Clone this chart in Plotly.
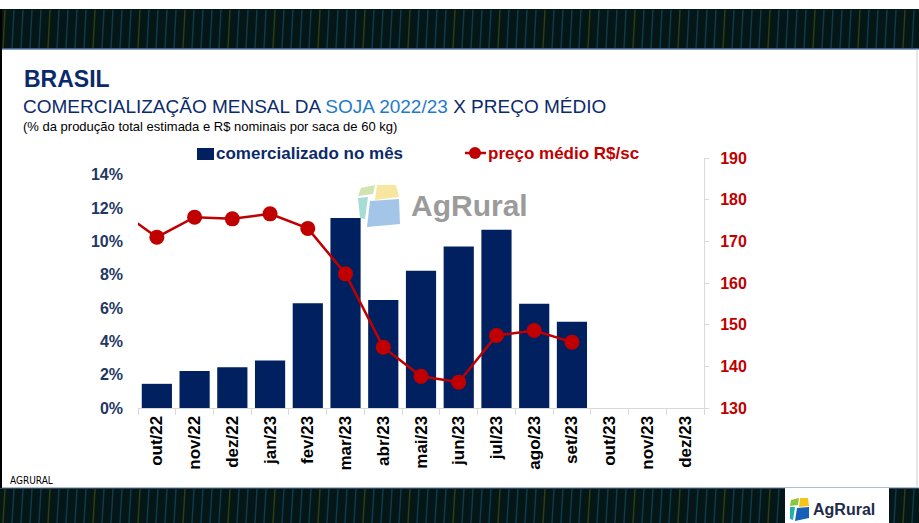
#%%
import plotly.graph_objects as go

# months on the x axis (set/22 is only there so the price line enters from the left edge)
meses = ['set/22', 'out/22', 'nov/22', 'dez/22', 'jan/23', 'fev/23', 'mar/23', 'abr/23',
         'mai/23', 'jun/23', 'jul/23', 'ago/23', 'set/23', 'out/23', 'nov/23', 'dez/23']

# % da produção comercializada no mês
meses_com = ['out/22', 'nov/22', 'dez/22', 'jan/23', 'fev/23', 'mar/23', 'abr/23',
             'mai/23', 'jun/23', 'jul/23', 'ago/23', 'set/23']
comercializado = [1.45, 2.22, 2.45, 2.85, 6.28, 11.4, 6.48, 8.24, 9.69, 10.69, 6.25, 5.18]

# preço médio R$/saca de 60 kg
meses_preco = ['set/22', 'out/22', 'nov/22', 'dez/22', 'jan/23', 'fev/23', 'mar/23', 'abr/23',
               'mai/23', 'jun/23', 'jul/23', 'ago/23', 'set/23']
preco = [177.4, 171.0, 175.8, 175.4, 176.6, 173.1, 162.2, 144.6, 137.6, 136.2, 147.4, 148.6, 145.8]

# left axis ticks
pct_ticks = [0, 2, 4, 6, 8, 10, 12, 14]
pct_labels = ['0%', '2%', '4%', '6%', '8%', '10%', '12%', '14%']

NAVY = '#002060'
RED = '#C00000'
FONT = 'Liberation Sans, Arial, sans-serif'

W, H = 919, 523
L, R, T, B = 138, 704, 158, 408   # plot area in pixels


def px(x):
    return (x - L) / (R - L)


def py(y):
    return (B - y) / (B - T)


#%%
fig = go.Figure()
fig.add_trace(go.Bar(
    x=meses_com, y=comercializado, marker=dict(color=NAVY, line=dict(width=0)),
    name='comercializado no mês', showlegend=False,
))
fig.add_trace(go.Scatter(
    x=meses_preco, y=preco, yaxis='y2', mode='lines+markers',
    line=dict(color=RED, width=2.5), marker=dict(color=RED, size=15),
    name='preço médio R$/sc', showlegend=False,
))

shapes = []
annots = []

# dark bands top and bottom
band = '#041616'
shapes.append(dict(type='rect', xref='paper', yref='paper', x0=px(0), x1=px(W), y0=py(49), y1=py(9),
                   fillcolor=band, line=dict(width=0), layer='below'))
shapes.append(dict(type='rect', xref='paper', yref='paper', x0=px(0), x1=px(W), y0=py(H), y1=py(488),
                   fillcolor=band, line=dict(width=0), layer='below'))
for i in range(0, 919, 9):
    col = '#0f3a4c' if (i // 9) % 5 else '#2e3d12'
    for y0, y1 in ((10, 48), (489, 523)):
        shapes.append(dict(type='line', xref='paper', yref='paper', x0=px(i + 3), x1=px(i + 5),
                           y0=py(y1), y1=py(y0), line=dict(color=col, width=1.5), layer='below'))
shapes.append(dict(type='line', xref='paper', yref='paper', x0=px(0), x1=px(W), y0=py(49), y1=py(49),
                   line=dict(color='#5a7aa8', width=1.5)))
shapes.append(dict(type='line', xref='paper', yref='paper', x0=px(0), x1=px(W), y0=py(488), y1=py(488),
                   line=dict(color='#5a7aa8', width=1)))
# borders
shapes.append(dict(type='line', xref='paper', yref='paper', x0=px(1), x1=px(1), y0=py(488), y1=py(9),
                   line=dict(color='black', width=2)))
shapes.append(dict(type='line', xref='paper', yref='paper', x0=px(917), x1=px(917), y0=py(488), y1=py(49),
                   line=dict(color='#cccccc', width=1)))
# white box with the logo at the bottom right
shapes.append(dict(type='rect', xref='paper', yref='paper', x0=px(785), x1=px(889), y0=py(H), y1=py(488),
                   fillcolor='white', line=dict(width=0)))


def poly(points, color, layer='above'):
    path = 'M ' + ' L '.join(f'{px(a):.5f},{py(b):.5f}' for a, b in points) + ' Z'
    return dict(type='path', xref='paper', yref='paper', path=path, fillcolor=color,
                line=dict(width=0), layer=layer)


# watermark logo
shapes.append(poly([(361, 188), (375, 185), (373, 194), (358, 196)], '#d2e3b2', 'below'))
shapes.append(poly([(377, 185), (396, 185), (399, 197), (375, 200)], '#f7e6a0', 'below'))
shapes.append(poly([(358, 198), (368, 197), (365, 219), (360, 218)], '#a6dcd4', 'below'))
shapes.append(poly([(370, 201), (399, 199), (400, 224), (367, 227)], '#a3c6e8', 'below'))
annots.append(dict(text='<b>AgRural</b>', x=px(409), y=py(205), xref='paper', yref='paper',
                   xanchor='left', yanchor='middle', showarrow=False,
                   font=dict(family=FONT, size=30, color='#9b9b9b')))

# small logo bottom right
shapes.append(poly([(791, 500), (799, 498), (798, 505), (790, 506)], '#8cc63f'))
shapes.append(poly([(800, 498), (808, 498), (809, 506), (799, 507)], '#f5c518'))
shapes.append(poly([(790, 507), (795, 507), (793, 520), (790, 519)], '#1fb3a7'))
shapes.append(poly([(797, 508), (809, 507), (809, 518), (795, 521)], '#1660b8'))
annots.append(dict(text='<b>AgRural</b>', x=px(811), y=py(509), xref='paper', yref='paper',
                   xanchor='left', yanchor='middle', showarrow=False,
                   font=dict(family=FONT, size=16, color='#1c2b4a')))

# titles
annots.append(dict(text='<b>BRASIL</b>', x=px(22), y=py(79), xref='paper', yref='paper',
                   xanchor='left', yanchor='middle', showarrow=False,
                   font=dict(family=FONT, size=23, color='#0B2A6B')))
annots.append(dict(text="COMERCIALIZAÇÃO MENSAL DA <span style='color:#1F7BC9'>SOJA 2022/23</span> X PREÇO MÉDIO",
                   x=px(21), y=py(106), xref='paper', yref='paper',
                   xanchor='left', yanchor='middle', showarrow=False,
                   font=dict(family=FONT, size=19, color='#0B2A6B')))
annots.append(dict(text='(% da produção total estimada e R$ nominais por saca de 60 kg)',
                   x=px(21), y=py(127), xref='paper', yref='paper',
                   xanchor='left', yanchor='middle', showarrow=False,
                   font=dict(family=FONT, size=13, color='black')))
annots.append(dict(text='AGRURAL', x=px(8), y=py(480), xref='paper', yref='paper',
                   xanchor='left', yanchor='middle', showarrow=False,
                   font=dict(family='DejaVu Sans Condensed, Liberation Sans Narrow, sans-serif', size=10, color='black')))

# legend drawn by hand so each label keeps its own colour
shapes.append(dict(type='rect', xref='paper', yref='paper', x0=px(197), x1=px(214), y0=py(160), y1=py(148),
                   fillcolor=NAVY, line=dict(width=0)))
annots.append(dict(text='<b>comercializado no mês</b>', x=px(214), y=py(153), xref='paper', yref='paper',
                   xanchor='left', yanchor='middle', showarrow=False,
                   font=dict(family=FONT, size=17, color='#0B2A6B')))
shapes.append(dict(type='line', xref='paper', yref='paper', x0=px(465), x1=px(486), y0=py(153), y1=py(153),
                   line=dict(color=RED, width=2.5)))
shapes.append(dict(type='circle', xref='paper', yref='paper', x0=px(469), x1=px(481), y0=py(159), y1=py(147),
                   fillcolor=RED, line=dict(width=0)))
annots.append(dict(text='<b>preço médio R$/sc</b>', x=px(486), y=py(153), xref='paper', yref='paper',
                   xanchor='left', yanchor='middle', showarrow=False,
                   font=dict(family=FONT, size=17, color=RED)))

fig.update_layout(
    width=W, height=H,
    margin=dict(l=L, r=W - R, t=T, b=H - B),
    paper_bgcolor='white', plot_bgcolor='white',
    bargap=0.2,
    shapes=shapes, annotations=annots,
    xaxis=dict(type='category', categoryorder='array', categoryarray=meses,
               range=[0.5, 15.5], tickangle=-90, tickson='boundaries',
               ticks='outside', ticklen=6, tickcolor='#d9d9d9',
               showline=True, linecolor='#d9d9d9', linewidth=1, showgrid=False,
               tickfont=dict(family=FONT, size=17, color='black', weight='bold')),
    yaxis=dict(range=[0, 15], tickmode='array', tickvals=pct_ticks, ticktext=pct_labels,
               showgrid=False, zeroline=False, showline=False, ticklabelstandoff=14,
               tickfont=dict(family=FONT, size=16, color='#1F3864', weight='bold')),
    yaxis2=dict(range=[130, 190], dtick=10, overlaying='y', side='right',
                showgrid=False, zeroline=False, showline=True, linecolor='#d9d9d9',
                ticks='outside', ticklen=4, tickcolor='#d9d9d9', ticklabelstandoff=8,
                tickfont=dict(family=FONT, size=16, color=RED, weight='bold')),
)

# page body has a default 8px margin; drop it so the figure sits at the window corner
fig.write_html('out.html', config={'displayModeBar': False},
               post_script="document.body.style.margin='0';")
# %%
